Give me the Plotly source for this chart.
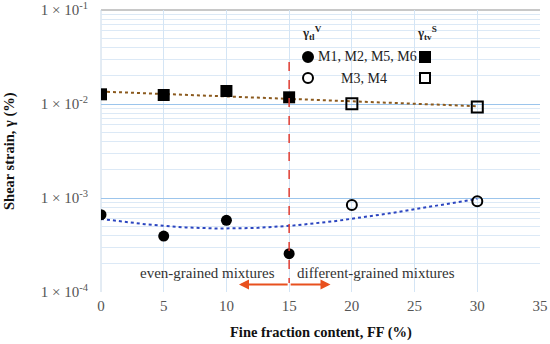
import numpy as np
import plotly.graph_objects as go

# ---- data ----
ff_filled = [0, 5, 10, 15]
ff_open = [20, 30]
gtl_filled = [6.64e-4, 3.94e-4, 5.79e-4, 2.56e-4]   # M1, M2, M5, M6 (circles)
gtl_open = [8.43e-4, 9.23e-4]                       # M3, M4 (circles)
gtv_filled = [0.01268, 0.01247, 0.01375, 0.01178]   # M1, M2, M5, M6 (squares)
gtv_open = [0.01007, 0.00929]                       # M3, M4 (squares)

x_ticks = [0, 5, 10, 15, 20, 25, 30, 35]
y_decades = [1e-4, 1e-3, 1e-2, 1e-1]
y_ticktext = ["1 × 10<sup>-4</sup>", "1 × 10<sup>-3</sup>", "1 × 10<sup>-2</sup>", "1 × 10<sup>-1</sup>"]

SERIF = "Liberation Serif"
L, R, T, B = 101, 10, 10, 52
W, H = 550, 344
PW, PH = W - L - R, H - T - B


def px(xp):
    return (xp - L) / PW


def py(yp):
    return 1 - (yp - T) / PH


# trend lines computed from the data
x_all = np.array(ff_filled + ff_open, dtype=float)
sq_all = np.array(gtv_filled + gtv_open)
ci_all = np.array(gtl_filled + gtl_open)
xs = np.linspace(0, 30, 121)
p_sq = np.polyfit(x_all, np.log(sq_all), 1)
trend_sq = np.exp(np.polyval(p_sq, xs))
p_ci = np.polyfit(x_all, ci_all, 2)
trend_ci = np.polyval(p_ci, xs)

fig = go.Figure()

fig.add_trace(go.Scatter(x=xs, y=trend_sq, mode="lines", showlegend=False,
                         line=dict(color="#8B5A1E", width=2, dash="dot"), hoverinfo="skip"))
fig.add_trace(go.Scatter(x=xs, y=trend_ci, mode="lines", showlegend=False,
                         line=dict(color="#2B45C0", width=2, dash="dot"), hoverinfo="skip"))

fig.add_trace(go.Scatter(x=ff_filled, y=gtl_filled, mode="markers", showlegend=False,
                         marker=dict(symbol="circle", size=11, color="black")))
fig.add_trace(go.Scatter(x=ff_open, y=gtl_open, mode="markers", showlegend=False,
                         marker=dict(symbol="circle-open", size=10, color="black", line=dict(width=2))))
fig.add_trace(go.Scatter(x=ff_filled, y=gtv_filled, mode="markers", showlegend=False,
                         marker=dict(symbol="square", size=12, color="black")))
fig.add_trace(go.Scatter(x=ff_open, y=gtv_open, mode="markers", showlegend=False,
                         marker=dict(symbol="square-open", size=11, color="black", line=dict(width=2))))

# vertical boundary at FF = 15
fig.add_shape(type="line", x0=15, x1=15, y0=0.028, y1=1.25e-4, xref="x", yref="y",
              line=dict(color="#E03C31", width=1.5, dash="dash"))

arrow_y = np.log10(1.2e-4)
for x_end in [11.0, 18.3]:
    fig.add_annotation(x=x_end, y=arrow_y, ax=15, ay=arrow_y, xref="x", yref="y",
                       axref="x", ayref="y", text="", showarrow=True,
                       arrowhead=2, arrowsize=1, arrowwidth=2, arrowcolor="#E8501E")

fig.add_annotation(x=8.5, y=np.log10(1.6e-4), xref="x", yref="y", text="even-grained mixtures",
                   showarrow=False, font=dict(family=SERIF, size=15, color="#333"))
fig.add_annotation(x=15.5, y=np.log10(1.6e-4), xref="x", yref="y", text="different-grained mixtures",
                   showarrow=False, xanchor="left", font=dict(family=SERIF, size=15, color="#333"))

# ---- custom legend (keys drawn as pixel-sized shapes) ----
leg_font = dict(family=SERIF, size=14, color="#222")
fig.add_annotation(xref="paper", yref="paper", x=px(300), y=py(33), xanchor="left", yanchor="middle",
                   text="<b>γ<sub>tl</sub><sup>V</sup></b>", showarrow=False,
                   font=dict(family=SERIF, size=13, color="#222"))
fig.add_annotation(xref="paper", yref="paper", x=px(415), y=py(33), xanchor="left", yanchor="middle",
                   text="<b>γ<sub>tv</sub><sup>S</sup></b>", showarrow=False,
                   font=dict(family=SERIF, size=13, color="#222"))
fig.add_annotation(xref="paper", yref="paper", x=px(316), y=py(57), xanchor="left", yanchor="middle",
                   text="M1, M2, M5, M6", showarrow=False, font=leg_font)
fig.add_annotation(xref="paper", yref="paper", x=px(339), y=py(79), xanchor="left", yanchor="middle",
                   text="M3, M4", showarrow=False, font=leg_font)


def key(shape_type, cx, cy, filled):
    fig.add_shape(type=shape_type, xref="paper", yref="paper",
                  xsizemode="pixel", ysizemode="pixel",
                  xanchor=px(cx), yanchor=py(cy),
                  x0=-5, x1=5, y0=-5, y1=5,
                  line=dict(color="black", width=2),
                  fillcolor="black" if filled else "white")


key("circle", 308, 57, True)
key("circle", 308, 78, False)
key("rect", 425, 57, True)
key("rect", 425, 78, False)

# axis titles
fig.add_annotation(xref="paper", yref="paper", x=px(9), y=0.5, textangle=-90,
                   xanchor="center", yanchor="middle", showarrow=False,
                   text="<b>Shear strain, γ (%)</b>", font=dict(family=SERIF, size=14.5, color="#111"))
fig.add_annotation(xref="paper", yref="paper", x=0.5, y=py(332),
                   xanchor="center", yanchor="middle", showarrow=False,
                   text="<b>Fine fraction content, FF (%)</b>", font=dict(family=SERIF, size=14.5, color="#111"))

fig.update_layout(
    width=W, height=H,
    margin=dict(l=L, r=R, t=T, b=B, autoexpand=False),
    paper_bgcolor="white", plot_bgcolor="white",
    font=dict(family=SERIF, size=14, color="#333"),
    showlegend=False,
    xaxis=dict(range=[0, 35], tickvals=x_ticks, showgrid=True, gridcolor="#D4E5F5", gridwidth=1,
               zeroline=False, showline=False, ticks="", automargin=False, ticklabelstandoff=3,
               ticklabeloverflow="allow",
               tickfont=dict(family=SERIF, size=15, color="#555")),
    yaxis=dict(type="log", range=[-4, -1], tickvals=y_decades, ticktext=y_ticktext,
               showgrid=True, gridcolor="#9CC5EC", gridwidth=1.3, zeroline=False,
               showline=False, ticks="", automargin=False, ticklabelstandoff=12,
               ticklabeloverflow="allow",
               minor=dict(tickvals=[m * d for d in y_decades[:-1] for m in range(2, 10)],
                          showgrid=True, gridcolor="#DCE9F6", gridwidth=1, ticks=""),
               tickfont=dict(family=SERIF, size=15, color="#555")),
)

# top frame line and left axis line
fig.add_shape(type="line", xref="paper", yref="paper", x0=0, x1=1, y0=1, y1=1,
              line=dict(color="#C8C8C8", width=2), layer="below")
fig.add_shape(type="line", xref="paper", yref="paper", x0=0, x1=0, y0=0, y1=1,
              line=dict(color="#C8D8E8", width=1), layer="below")

fig.write_html("out.html", config={"displayModeBar": False},
               post_script="document.body.style.margin='0';")
